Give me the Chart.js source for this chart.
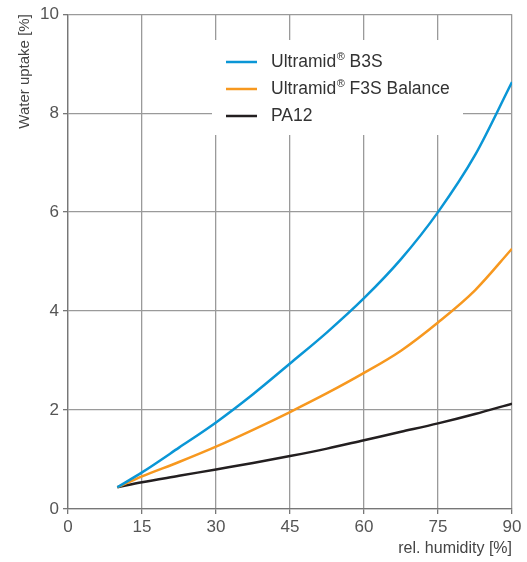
<!DOCTYPE html>
<html lang="en">
<head>
<meta charset="UTF-8">
<title>Water uptake</title>
<script src="https://cdn.jsdelivr.net/npm/chart.js"></script>
<style>
    body { margin: 0; padding: 0; background: #fff; }
    #chart { display: block; }
</style>
</head>
<body>
<canvas id="chart" width="527" height="562"></canvas>
<script>
// humidity points (x) and water uptake (%) per material
const humidity = [10, 15, 22.5, 30, 37.5, 45, 52.5, 60, 67.5, 75, 82.5, 90];
const b3s      = [0.44, 0.74, 1.24, 1.75, 2.32, 2.94, 3.57, 4.26, 5.05, 6.0, 7.15, 8.63];
const f3s      = [0.44, 0.66, 0.95, 1.26, 1.60, 1.96, 2.34, 2.75, 3.20, 3.77, 4.42, 5.26];
const pa12     = [0.44, 0.54, 0.67, 0.80, 0.93, 1.07, 1.22, 1.39, 1.56, 1.73, 1.92, 2.13];
const seriesNames = [['Ultramid', ' B3S'], ['Ultramid', ' F3S Balance'], ['PA12', null]];
const xTicks = [0, 15, 30, 45, 60, 75, 90];
const yTicks = [0, 2, 4, 6, 8, 10];

const FONT = 'Liberation Sans, Arial, sans-serif';
const GRID = '#9a9a9a';

function toPoints(vals) {
    return vals.map((v, i) => ({ x: humidity[i], y: v }));
}

// legend box drawn over the grid, under the curves
const boxLegend = {
    id: 'boxLegend',
    beforeDatasetsDraw(chart) {
        const ctx = chart.ctx;
        ctx.save();
        ctx.fillStyle = '#fff';
        ctx.fillRect(212, 40, 251, 95);
        chart.data.datasets.forEach((ds, i) => {
            const y = 62 + i * 27;
            ctx.strokeStyle = ds.borderColor;
            ctx.lineWidth = 2.5;
            ctx.beginPath();
            ctx.moveTo(226, y);
            ctx.lineTo(257, y);
            ctx.stroke();
            const parts = seriesNames[i];
            ctx.fillStyle = '#333';
            ctx.textBaseline = 'middle';
            ctx.font = '17.5px ' + FONT;
            let x = 271;
            ctx.fillText(parts[0], x, y);
            x += ctx.measureText(parts[0]).width;
            if (parts[1] !== null) {
                ctx.font = '11px ' + FONT;
                ctx.fillText('\u00AE', x + 0.5, y - 5);
                x += ctx.measureText('\u00AE').width + 0.5;
                ctx.font = '17.5px ' + FONT;
                ctx.fillText(parts[1], x, y);
            }
        });
        ctx.restore();
    }
};

new Chart(document.getElementById('chart'), {
    type: 'line',
    data: {
        datasets: [
            { label: 'Ultramid® B3S', data: toPoints(b3s), borderColor: '#0a96d6' },
            { label: 'Ultramid® F3S Balance', data: toPoints(f3s), borderColor: '#f7981f' },
            { label: 'PA12', data: toPoints(pa12), borderColor: '#231f20' }
        ]
    },
    options: {
        responsive: false,
        animation: false,
        layout: { padding: { top: 13, right: 15, left: 0, bottom: 0 } },
        elements: {
            point: { radius: 0 },
            line: { borderWidth: 2.5, cubicInterpolationMode: 'monotone', fill: false }
        },
        plugins: {
            legend: { display: false },
            tooltip: { enabled: false }
        },
        scales: {
            x: {
                type: 'linear',
                min: 0,
                max: 90,
                afterBuildTicks: s => { s.ticks = xTicks.map(v => ({ value: v })); },
                afterFit: s => { s.height = 53; },
                grid: { color: GRID, lineWidth: 1.3, tickLength: 5, tickColor: '#777' },
                border: { color: '#777', width: 1.3 },
                ticks: { color: '#555', font: { family: FONT, size: 17 }, padding: 3 },
                title: {
                    display: true, text: 'rel. humidity [%]', align: 'end',
                    color: '#444', font: { family: FONT, size: 16 }, padding: { top: 2 }
                }
            },
            y: {
                type: 'linear',
                min: 0,
                max: 10,
                afterBuildTicks: s => { s.ticks = yTicks.map(v => ({ value: v })); },
                afterFit: s => { s.width = 68; },
                grid: { color: GRID, lineWidth: 1.3, tickLength: 5, tickColor: '#777' },
                border: { color: '#777', width: 1.3 },
                ticks: { color: '#555', font: { family: FONT, size: 17 }, padding: 4 },
                title: {
                    display: true, text: 'Water uptake [%]', align: 'end',
                    color: '#444', font: { family: FONT, size: 15 }, padding: { top: 16, bottom: 0 }
                }
            }
        }
    },
    plugins: [boxLegend]
});
</script>
</body>
</html>
